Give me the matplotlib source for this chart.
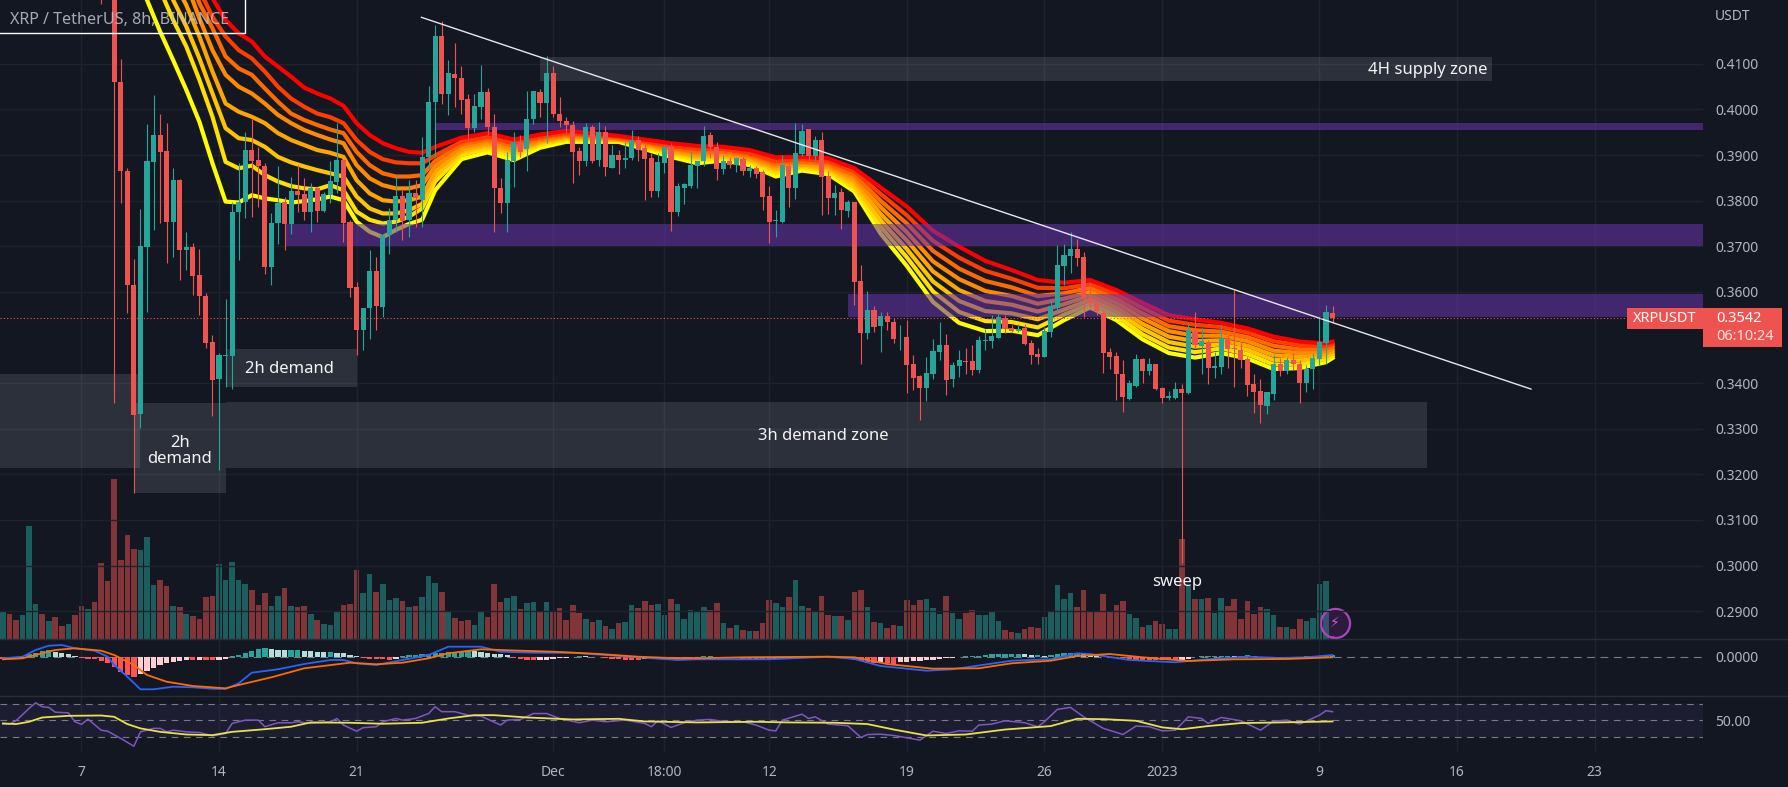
import numpy as np
import matplotlib
matplotlib.use("Agg")
import matplotlib.pyplot as plt
from matplotlib.patches import Rectangle
from matplotlib.lines import Line2D

plt.rcParams["font.family"] = ["Noto Sans", "DejaVu Sans"]

W, H = 1788, 787
BG = "#131722"
RED = "#ef5350"
GREEN = "#26a69a"
TXT = "#b2b5be"
GRID = "#1e222d"

# candles, prices in 1/10000 USDT, first candle is index 3 (7 Nov = index 0, one candle = 8h)
first_candle = 3
highs = [4400, 4340,
         4290, 4110, 3871, 3673, 3781, 3968, 4032, 3991, 3971, 3871,
         3847, 3732, 3708, 3695, 3598, 3505, 3465, 3584, 3798, 3882,
         3951, 3978, 3918, 3882, 3772, 3875, 3809, 3853, 3878, 3849,
         3838, 3831, 3820, 3888, 3971, 3889, 3758, 3622, 3564, 3692,
         3677, 3728, 3783, 3853, 3823, 3845, 3845,
         3940, 4051, 4185, 4195, 4108, 4146, 4095, 4035, 4034, 4097,
         4046, 3991, 3849, 3907, 3951, 3945, 4041, 4041, 4044, 4117,
         4095, 4028, 3984, 3975, 3918, 3970, 3966, 3973, 3964, 3922,
         3911, 3929, 3955, 3942, 3924, 3905, 3905, 3922, 3926, 3839,
         3839, 3911, 3888, 3964, 3951, 3929, 3900, 3896, 3896, 3895,
         3878, 3876, 3867, 3832, 3780, 3900, 3882, 3970, 3968, 3957,
         3941, 3950, 3864, 3835, 3827, 3802, 3798, 3659, 3601, 3569,
         3557, 3557, 3542, 3528, 3539, 3462, 3418, 3458, 3496, 3535,
         3507, 3447, 3473, 3476, 3484, 3503, 3519, 3550, 3551, 3550,
         3528, 3530, 3530, 3495, 3476, 3524, 3582, 3702, 3706, 3732,
         3717, 3688, 3620, 3586, 3560, 3476, 3469, 3450, 3407, 3463,
         3456, 3454, 3442, 3392, 3383, 3402, 3398, 3531, 3555, 3520,
         3494, 3469, 3527, 3505, 3604, 3487, 3458, 3421, 3410, 3381,
         3461, 3454, 3458, 3465, 3450, 3439, 3465, 3545, 3571, 3569]
body_tops = [4380, 4330,
             4275, 4060, 3864, 3616, 3701, 3886, 3944, 3944, 3909, 3845,
             3845, 3698, 3699, 3636, 3592, 3490, 3461, 3461, 3776, 3798,
             3911, 3911, 3889, 3876, 3752, 3796, 3798, 3821, 3821, 3814,
             3828, 3828, 3814, 3843, 3889, 3889, 3754, 3610, 3564, 3646,
             3646, 3725, 3758, 3811, 3811, 3817, 3817,
             3895, 4017, 4160, 4160, 4079, 4077, 4070, 4023, 4008, 4038,
             4038, 3961, 3827, 3889, 3928, 3928, 3980, 4040, 4038, 4079,
             4079, 3991, 3975, 3967, 3909, 3961, 3961, 3950, 3950, 3900,
             3900, 3894, 3933, 3934, 3915, 3893, 3885, 3917, 3917, 3832,
             3836, 3878, 3888, 3942, 3944, 3917, 3888, 3888, 3893, 3891,
             3871, 3871, 3862, 3810, 3758, 3878, 3877, 3904, 3953, 3957,
             3933, 3933, 3854, 3816, 3819, 3797, 3798, 3623, 3560, 3560,
             3547, 3547, 3535, 3500, 3501, 3441, 3416, 3422, 3471, 3483,
             3483, 3440, 3451, 3449, 3449, 3495, 3495, 3503, 3546, 3542,
             3520, 3518, 3520, 3489, 3464, 3514, 3569, 3659, 3681, 3693,
             3693, 3676, 3586, 3575, 3553, 3468, 3459, 3421, 3401, 3453,
             3453, 3441, 3441, 3390, 3371, 3388, 3387, 3516, 3513, 3493,
             3491, 3437, 3500, 3500, 3477, 3472, 3452, 3398, 3382, 3380,
             3443, 3443, 3450, 3450, 3443, 3432, 3454, 3491, 3555, 3553]
body_bots = [4330, 4280,
             4060, 3864, 3615, 3330, 3332, 3699, 3885, 3907, 3754, 3754,
             3692, 3692, 3635, 3592, 3487, 3407, 3408, 3459, 3460, 3776,
             3798, 3886, 3875, 3655, 3655, 3752, 3749, 3749, 3812, 3775,
             3775, 3777, 3777, 3812, 3841, 3752, 3609, 3516, 3516, 3564,
             3569, 3567, 3725, 3758, 3756, 3758, 3805,
             3801, 3895, 4017, 4034, 4034, 4070, 4021, 3959, 3959, 4006,
             3961, 3828, 3796, 3796, 3888, 3907, 3913, 3980, 4015, 4015,
             3989, 3975, 3966, 3907, 3888, 3887, 3888, 3889, 3873, 3872,
             3889, 3889, 3894, 3911, 3892, 3822, 3822, 3883, 3775, 3776,
             3828, 3832, 3875, 3888, 3917, 3869, 3869, 3878, 3878, 3866,
             3866, 3859, 3808, 3753, 3756, 3753, 3828, 3828, 3903, 3898,
             3898, 3853, 3806, 3806, 3780, 3778, 3622, 3509, 3509, 3524,
             3525, 3533, 3496, 3498, 3440, 3411, 3389, 3389, 3420, 3469,
             3407, 3408, 3438, 3446, 3429, 3429, 3493, 3492, 3500, 3518,
             3515, 3515, 3485, 3462, 3458, 3458, 3512, 3564, 3657, 3679,
             3675, 3586, 3575, 3559, 3465, 3458, 3420, 3370, 3366, 3394,
             3427, 3427, 3388, 3367, 3367, 3367, 3379, 3379, 3483, 3481,
             3434, 3434, 3436, 3475, 3474, 3450, 3396, 3380, 3352, 3350,
             3377, 3427, 3427, 3442, 3401, 3401, 3432, 3453, 3488, 3542]
lows = [4231, 4265,
        3356, 3794, 3554, 3160, 3301, 3557, 3736, 3752, 3663, 3677,
        3626, 3648, 3593, 3549, 3476, 3328, 3209, 3392, 3388, 3670,
        3761, 3765, 3787, 3639, 3615, 3706, 3692, 3728, 3776, 3758,
        3732, 3754, 3776, 3794, 3816, 3710, 3588, 3461, 3472, 3496,
        3516, 3546, 3684, 3732, 3714, 3721, 3743,
        3743, 3867, 3896, 4012, 3988, 4006, 3990, 3929, 3951, 3980,
        3944, 3732, 3772, 3732, 3831, 3896, 3866, 3968, 3983, 3926,
        3984, 3962, 3948, 3838, 3856, 3875, 3882, 3875, 3855, 3871,
        3858, 3872, 3889, 3888, 3801, 3809, 3809, 3860, 3734, 3766,
        3793, 3827, 3827, 3876, 3893, 3845, 3858, 3871, 3863, 3856,
        3852, 3849, 3780, 3707, 3721, 3752, 3787, 3804, 3897, 3889,
        3886, 3769, 3771, 3769, 3737, 3764, 3571, 3441, 3497, 3511,
        3469, 3517, 3489, 3473, 3378, 3386, 3319, 3361, 3408, 3451,
        3374, 3391, 3414, 3420, 3418, 3422, 3473, 3476, 3498, 3509,
        3512, 3511, 3484, 3442, 3443, 3457, 3502, 3559, 3615, 3641,
        3657, 3545, 3560, 3549, 3423, 3432, 3363, 3337, 3363, 3391,
        3401, 3418, 3386, 3357, 3364, 3366, 3006, 3377, 3478, 3420,
        3398, 3412, 3421, 3434, 3392, 3434, 3372, 3335, 3312, 3332,
        3363, 3416, 3420, 3429, 3357, 3381, 3388, 3439, 3443, 3535]
candle_dirs = ("rr" "rrrrgggrrg" "rgrrrrgggg" "grrrggrgrr" "grgggrrrgg" "rgggrgr"
               "gggrgrrrgg" "rrrggrggrg" "rrrrrgrgrg" "rggrrrggrg" "ggggrrgrgr"
               "grrrggrggr" "grrgrgrrgr" "grrgrrrggg" "rggrrggggr" "rgrrrggggg"
               "rrrrrrrrgg" "rgrrggrgrg" "rggrrrrrrg" "grgrrggggr")

# volume starts at index -12
first_volume = -12
volumes = [27.7, 25.3, 18.7, 24.3, 112.7, 35.3, 25.3, 17.7, 21.7, 13.3,
           15.3, 24.3, 33.3, 30.3, 37.3, 76, 58.3, 160, 79.3, 104.3,
           90.3, 89.3, 102.3, 54.3, 59.3, 53.3, 33.3, 31.7, 25.3, 23.3,
           20.3, 41.7, 42.7, 74.7, 59.3, 76.7, 59.3, 55.3, 49.3, 34.3,
           45.7, 33.3, 43.3, 51.3, 33.3, 32, 33.3, 25.3, 19.3, 15.3,
           13.7, 26.7, 34.3, 35.3, 69.3, 46.3, 65.3, 47.3, 55.3, 39.3,
           41, 37.7, 31.7, 33.3, 42, 63.3, 56.3, 47.3, 28.3, 21.3,
           18.3, 19.3, 14.3, 28.3, 22, 55.3, 37.3, 41.3, 43.3, 30.3,
           36.3, 37.3, 27.3, 37.3, 28.3, 31.3, 19.3, 34.3, 26.3, 20.3,
           17.3, 19.3, 13.3, 10.3, 16, 17.3, 34.3, 31.3, 38.3, 34.3,
           35.3, 24.3, 40.3, 35.3, 20.3, 29.3, 26.7,
           31.7, 29.3, 36.3, 16.3, 11.3, 14.3, 9.3, 8.3, 8.3, 16.3,
           39.3, 36.3, 32.3, 42.3, 59.3, 33.3, 31.3, 27.3, 43.3, 24.3,
           23.3, 23.3, 19.3, 47.3, 49.3, 32.3, 17.3, 16.3, 11, 14.3,
           13.3, 39.3, 34.3, 39.3, 40.3, 31.3, 25.3, 43.3, 26.3, 20.3,
           26.3, 29.3, 24.3, 24.3, 27.3, 18.3, 9.3, 7.3, 6.3, 10.3,
           12.3, 11.3, 22.3, 28.3, 54.3, 40.3, 46.3, 32.3, 49.3, 28.3,
           27.3, 45.3, 28.3, 34.3, 38.3, 25.3, 21.3, 12.3, 14.3, 18.3,
           15.3, 10.3, 10.3, 100.3, 54.3, 40.3, 40.3, 41.3, 26.3, 41.3,
           33.3, 40.3, 20.3, 38.3, 25.3, 32.3, 30.3, 24.3, 12.3, 12.3,
           10.3, 20.3, 18.3, 21.3, 55.3, 58.3, 3.3]
early_vol_dirs = "grrgggrgrrgrrgr"  # bars before the first candle

# moving average ribbon, in 1/10000 USDT
ribbon_i = [8, 10, 12, 14, 16, 18, 20, 22, 24, 26, 28, 30, 32, 34, 36, 38, 40, 42, 44, 46, 48, 50, 52,
            54, 58, 62, 66, 70, 74, 78, 82, 86, 90, 94, 98, 102, 106, 110, 114,
            118, 122, 126, 130, 134, 138, 142, 146, 150, 154, 158, 162, 166, 170, 174, 178, 182, 186, 190, 191]
ema_1 = [4576, 4525, 4474, 4423, 4372, 4291, 4244, 4196, 4167, 4149, 4116, 4094, 4072, 4048, 4035, 4024, 4008, 3970, 3944, 3926, 3915, 3907, 3905,
         3918, 3938, 3948, 3934, 3945, 3953, 3948, 3942, 3934, 3926, 3920, 3918, 3911, 3895, 3896, 3893,
         3871, 3829, 3787, 3734, 3699, 3668, 3648, 3626, 3620, 3626, 3604, 3576, 3549, 3540, 3532, 3520, 3502, 3491, 3487, 3491]
ema_2 = [4547, 4496, 4445, 4394, 4342, 4262, 4203, 4160, 4130, 4112, 4083, 4050, 4024, 4006, 3991, 3983, 3970, 3933, 3907, 3891, 3884, 3882, 3882,
         3899, 3929, 3940, 3926, 3940, 3948, 3944, 3940, 3930, 3920, 3913, 3913, 3904, 3886, 3891, 3886,
         3864, 3815, 3768, 3712, 3675, 3646, 3629, 3609, 3608, 3617, 3595, 3565, 3537, 3528, 3523, 3511, 3492, 3483, 3481, 3486]
ema_3 = [4518, 4467, 4415, 4364, 4313, 4233, 4178, 4116, 4090, 4076, 4046, 4017, 3991, 3977, 3966, 3956, 3948, 3907, 3878, 3860, 3853, 3853, 3856,
         3887, 3923, 3934, 3920, 3936, 3945, 3942, 3937, 3927, 3916, 3907, 3908, 3900, 3881, 3886, 3881,
         3856, 3800, 3750, 3690, 3651, 3624, 3610, 3591, 3597, 3609, 3585, 3553, 3525, 3516, 3513, 3501, 3482, 3474, 3475, 3481]
ema_4 = [4489, 4430, 4379, 4328, 4277, 4200, 4130, 4076, 4050, 4035, 4013, 3988, 3970, 3955, 3944, 3934, 3926, 3878, 3849, 3834, 3827, 3827, 3834,
         3876, 3917, 3929, 3914, 3932, 3942, 3940, 3936, 3925, 3913, 3903, 3904, 3896, 3876, 3883, 3877,
         3849, 3786, 3731, 3667, 3628, 3602, 3591, 3574, 3585, 3600, 3576, 3542, 3514, 3504, 3504, 3492, 3471, 3466, 3470, 3475]
ema_5 = [4459, 4401, 4342, 4284, 4229, 4160, 4083, 4013, 3995, 3984, 3970, 3948, 3933, 3922, 3911, 3905, 3896, 3845, 3816, 3801, 3798, 3801, 3809,
         3864, 3911, 3924, 3909, 3929, 3940, 3937, 3934, 3922, 3909, 3898, 3901, 3892, 3871, 3879, 3873,
         3842, 3771, 3713, 3645, 3604, 3580, 3572, 3557, 3573, 3592, 3566, 3530, 3502, 3492, 3494, 3482, 3461, 3458, 3464, 3470]
ema_6 = [4423, 4364, 4306, 4240, 4182, 4112, 4035, 3959, 3937, 3933, 3918, 3896, 3884, 3875, 3867, 3860, 3853, 3809, 3783, 3772, 3772, 3779, 3793,
         3854, 3906, 3919, 3904, 3926, 3937, 3935, 3933, 3920, 3906, 3894, 3897, 3888, 3866, 3875, 3869,
         3834, 3757, 3694, 3623, 3580, 3558, 3553, 3540, 3561, 3583, 3557, 3519, 3490, 3480, 3485, 3473, 3451, 3450, 3458, 3465]
ema_7 = [4379, 4313, 4262, 4196, 4138, 4065, 3984, 3885, 3871, 3877, 3856, 3842, 3832, 3827, 3825, 3834, 3823, 3776, 3758, 3750, 3754, 3765, 3783,
         3842, 3900, 3914, 3898, 3922, 3934, 3933, 3932, 3917, 3902, 3889, 3893, 3885, 3861, 3872, 3865,
         3827, 3743, 3676, 3601, 3556, 3536, 3534, 3522, 3550, 3574, 3548, 3507, 3478, 3468, 3476, 3464, 3441, 3441, 3452, 3460]
ema_8 = [4306, 4240, 4171, 4108, 4043, 3973, 3882, 3798, 3796, 3812, 3805, 3801, 3796, 3799, 3803, 3809, 3801, 3754, 3732, 3720, 3736, 3749, 3758,
         3823, 3891, 3906, 3889, 3916, 3929, 3929, 3929, 3913, 3896, 3882, 3888, 3878, 3853, 3866, 3858,
         3820, 3728, 3657, 3578, 3532, 3514, 3515, 3505, 3538, 3566, 3538, 3496, 3466, 3456, 3466, 3454, 3431, 3433, 3446, 3455]
ribbon_colors = ["#ff0000", "#ff3d00", "#ff6a00", "#ff8a00", "#ffa500", "#ffc400", "#ffe000", "#ffff00"]

# zones: start index, end index, high, low (1/10000 USDT)
purple_zones = [(54.1, 247.6, 3970, 3955), (31.1, 247.6, 3749, 3701), (117, 247.6, 3595, 3544)]
grey_zones = [(-12.5, 8.9, 3420, 3214), (8, 22, 3356, 3159), (22, 205.4, 3358, 3214),
              (22, 42, 3475, 3391), (70, 215.3, 4115, 4062)]
trend_i = [51.9, 221.3]
trend_p = [4202, 3387]
last_price = 3542

# MACD, in 1/10000
macd_i = [-12, -9, -7, -5, -3, -1, 2, 4, 5, 7, 9, 11, 14, 17, 20, 22, 24, 26, 30, 34, 38, 40, 42, 45, 49, 53, 56, 61, 64, 69, 75, 80, 85, 91, 94,
          105, 114, 118, 122, 129, 133, 142, 148, 152, 154, 160, 167, 172, 178, 183, 187, 191]
macd_v = [-1.3, 0.3, 7, 11.3, 12, 8.7, 6.3, 0.3, -8, -19.7, -32.3, -32.3, -29.7, -30.3, -31.7, -32, -26.3, -15.7, -12.3, -7, -3, -3, -6.3, -8, -3, 2, 10.3, 10.3, 5.3, 4.3, 4.3, 2, -0.3, -3, -2.3,
          -2.3, 0.3, -2, -9, -13.7, -12.3, -3.7, -2.3, 3.7, 3, -3, -5.3, -2.3, 0.3, -1, -0.3, 2]
signal_i = [-12, -9, -7, -4, -1, 3, 5, 8, 10, 13, 17, 22, 24, 29, 34, 41, 45, 49, 53, 56, 61, 67, 72, 79, 85, 91, 94,
            101, 114, 118, 123, 130, 137, 142, 148, 152, 157, 162, 169, 176, 184, 191]
signal_v = [-2.3, -1.3, 2, 7, 8.7, 6.3, 2, -8, -18, -24.7, -29, -31.3, -28, -20.3, -11.3, -5.7, -7.3, -5.7, -1.3, 3.7, 7.7, 6.3, 5.3, 3, 0.3, -1.3, -1.3,
            -0.3, 0.3, -0.3, -7, -11.7, -11.3, -6.3, -3.7, 1, 3, -0.3, -4, -2.3, -2, -0.3]
macd_hist = [-1.5, -1.5, -1.5, -1, 3, 4.5, 6.5, 7, 5, 4, 3, 1,
             -0.5, -1.5, -2, -4, -6, -10, -15, -18, -20, -17, -14, -11, -8, -6, -4.5, -4, -3, -3, -2.5, -3, -3, -2.5, -2,
             1, 2.5, 4, 6, 8, 9, 8, 7.5, 7, 7, 7, 6.5, 6, 5.5, 5, 5, 4.5, 4, 2.5, 0.7, -1, -1.5, -2, -2, -2.7, -1.5,
             1, 2, 2.5, 3, 3.5, 4, 4.5, 5, 5.5, 6, 6.5, 6, 5, 4, 3.5, 3, 2.5, -1, -2, -2.7, -3, -2.7, -2.5, -2, -1, -0.5,
             0.5, 1, 0.7, 0.5, 0, -1, -1.5, -2, -2.5, -2.5, -2.5, -2, -2, -1.5, -1.5, -1.5, -1.5, -1.5, -1.5, -1.5,
             1, 1.2, 0.5, -0.5, -0.8, -1, -1.5, -2, -2, -2.5, -2.5, -2, -1.5, -1, 0.5, 1, 1.5, 1.5, 1, 0.3, 0.2, -0.3, -1,
             -2.5, -4, -5, -5.5, -5, -6, -6.5, -5, -4.5, -4, -3.5, -3, -2.5, -1.5, -1, -0.5, 0.5, 1, 1.5, 1.5, 2.5, 2.7, 2.8, 3,
             3.5, 3.5, 3, 2, 2, 1, 2, 3, 3.7, 4, 4, 3, 2.5, 1, 0.3, -0.3, -0.5, -1, -2, -2.5, -2.5, -3, -3, -3, -3, -3, -2.5, -1.5,
             0, 1, 1.5, 1.5, 1.5, 1.5, 1, 1.5, 2, 1, -0.5, -1, -1.5, -1, -0.5, -0.3, 0.3, 1, 1, 1.5, 2, 2.3]

# RSI
rsi_i = [-12, -11, -10, -8, -7, -6, -5, -4, -2, -1, 0, 1, 3, 4, 6, 8, 9, 11, 12, 13, 14, 16, 18, 20, 22, 23, 25, 27, 28, 30, 32, 33, 35, 38, 39, 40, 42, 43, 45, 46, 48, 49, 51, 53, 54, 55, 57, 59, 61, 64, 65, 67, 69, 71, 73, 76, 78, 80, 83, 86, 87, 88, 90, 92, 94,
         96, 98, 101, 103, 105, 106, 107, 110, 111, 112, 114, 117, 119, 120, 122, 124, 128, 130, 132, 134, 136, 137, 139, 141, 144, 146, 147, 149, 151, 153, 156, 159, 161, 163, 165, 167, 169, 171, 172, 174, 177, 180, 182, 184, 186, 189, 190, 191]
rsi_v = [47.8, 47.8, 49.8, 57.3, 60.7, 58.3, 57.9, 55, 54.6, 49.2, 47.6, 50.8, 44.1, 43.5, 39.1, 34.4, 43.1, 45.2, 45.2, 43.1, 44.1, 43.1, 42.7, 40.7, 42.1, 48.2, 50.2, 50.2, 46.2, 48.6, 48.6, 49.2, 48.2, 49.2, 51.2, 47.2, 43.5, 45.6, 46.2, 49.2, 51.2, 50.2, 51.2, 54.2, 58.3, 55.3, 55.3, 53.2, 52.6, 47.2, 50.2, 50.6, 54.2, 54.2, 51.2, 48.6, 50.2, 49.2, 50.2, 48.2, 46.2, 49.8, 45.8, 48.6, 50.2,
         50.6, 49.4, 49.2, 47.2, 44.1, 43.7, 50.2, 53.8, 51.2, 52.2, 47.8, 46.8, 39.7, 41.5, 41.7, 40.9, 38.1, 43.5, 42.1, 43.7, 43.5, 47.2, 47.8, 49.8, 48.6, 46.2, 49.2, 56.7, 57.9, 52.2, 45.2, 41.5, 46.6, 46.2, 43.7, 44.1, 52.2, 51.2, 48.2, 51.8, 49.8, 44.1, 49.6, 50.2, 47.8, 53.2, 55.9, 55.3]
rsi_ma_i = [-12, -10, -8, -6, -2, 3, 5, 7, 9, 12, 16, 20, 23, 28, 32, 35, 41, 46, 52, 56, 60, 63, 68, 75, 82, 86, 94,
            103, 108, 115, 120, 124, 129, 135, 141, 148, 152, 156, 161, 165, 168, 172, 177, 183, 191]
rsi_ma_v = [48.2, 47.8, 49.2, 51.8, 52.8, 53, 52.2, 47.8, 45.2, 43.1, 41.5, 41.1, 43.1, 44.7, 46.2, 48.8, 48.6, 48, 48.6, 51.2, 53.2, 53.2, 51.8, 50.6, 51, 49.4, 48.8,
            49.2, 48.8, 48.6, 47.8, 44.5, 40.9, 41.5, 44.5, 46.6, 51, 50.8, 49.8, 45.8, 44.7, 46.6, 48.4, 48.8, 49.4]

# axis labels
x_tick_i = [0, 21, 42, 72, 89, 105, 126, 147, 165, 189, 210, 231]
x_tick_labels = ["7", "14", "21", "Dec", "18:00", "12", "19", "26", "2023", "9", "16", "23"]
price_ticks = [4100, 4000, 3900, 3800, 3700, 3600, 3400, 3300, 3200, 3100, 3000, 2900]


def pane(top, bottom, left=0, right=1703):
    return fig.add_axes([left / W, 1 - bottom / H, (right - left) / W, (bottom - top) / H])


def fig_text(x, y, s, **kw):
    return fig.text(x / W, 1 - y / H, s, va="center", **kw)


def fig_rect(x0, y0, x1, y1, **kw):
    fig.add_artist(Rectangle((x0 / W, 1 - y1 / H), (x1 - x0) / W, (y1 - y0) / H,
                             transform=fig.transFigure, **kw))


def p(vals):
    return np.array(vals) / 10000


fig = plt.figure(figsize=(W / 100, H / 100), dpi=100, facecolor=BG)
XLIM = (-12.44, 247.56)

# volume sits under the price pane
vol_ax = pane(0, 639)
vol_ax.set_facecolor(BG)
vol_ax.set_xlim(XLIM)
vol_ax.set_ylim(0, 639)
vol_ax.set_xticks([])
vol_ax.set_yticks([])
vol_dirs = early_vol_dirs + candle_dirs
vol_x = np.arange(len(volumes)) + first_volume
vol_colors = [RED if d == "r" else GREEN for d in vol_dirs]
vol_ax.bar(vol_x, volumes, width=0.86, color=vol_colors, alpha=0.5, linewidth=0)
vol_ax.scatter([191.4], [16], s=440, facecolor="#9c27b033", edgecolor="#ab47bc", linewidth=1.6, zorder=5)
vol_ax.text(191.4, 16, "\u26a1", color="#ba68c8", ha="center", va="center", fontsize=10,
            family="DejaVu Sans", zorder=6)

ax = pane(0, 639)
ax.patch.set_alpha(0)
ax.set_xlim(XLIM)
ax.set_ylim(0.2839, 0.4240)
ax.set_xticks(x_tick_i)
ax.set_yticks(p(price_ticks))
ax.set_xticklabels([])
ax.set_yticklabels(["%.4f" % t for t in p(price_ticks)])
ax.yaxis.tick_right()
ax.tick_params(axis="both", length=0)
ax.tick_params(axis="y", colors=TXT, labelsize=10, pad=9)
ax.grid(True, color=GRID, lw=1)
ax.set_axisbelow(True)

# ribbon, yellow first so the red stays on top where the lines bunch up
emas = [ema_1, ema_2, ema_3, ema_4, ema_5, ema_6, ema_7, ema_8]
for n in range(7, -1, -1):
    ax.plot(ribbon_i, p(emas[n]), color=ribbon_colors[n], lw=3.0, zorder=2, solid_joinstyle="round")

# zones
for x0, x1, hi, lo in purple_zones:
    ax.add_patch(Rectangle((x0, lo / 10000), x1 - x0, (hi - lo) / 10000, facecolor="#6a35b0",
                           alpha=0.55, linewidth=0, zorder=3))
for x0, x1, hi, lo in grey_zones:
    ax.add_patch(Rectangle((x0, lo / 10000), x1 - x0, (hi - lo) / 10000, facecolor="#ffffff",
                           alpha=0.11, linewidth=0, zorder=3))

# candles
candle_x = np.arange(len(highs)) + first_candle
colors = [RED if d == "r" else GREEN for d in candle_dirs]
ax.vlines(candle_x, p(lows), p(highs), colors=colors, lw=0.8, zorder=4)
ax.bar(candle_x, p(body_tops) - p(body_bots), bottom=p(body_bots), width=0.78, color=colors,
       linewidth=0, zorder=4)

ax.plot(trend_i, p(trend_p), color="#e8e8ec", lw=1.0, zorder=5)
ax.axhline(last_price / 10000, color=RED, lw=0.8, ls=(0, (1, 2)), zorder=5)

label_kw = dict(color="#f4f4f6", fontsize=12, fontweight="medium", ha="center", va="center", zorder=6)
ax.text(31.7, 0.3430, "2h demand", **label_kw)
ax.text(15, 0.3251, "2h\ndemand", linespacing=1.0, **label_kw)
ax.text(113.2, 0.3284, "3h demand zone", **label_kw)
ax.text(205.6, 0.4086, "4H supply zone", **label_kw)
ax.text(167.3, 0.2965, "sweep", **label_kw)

# MACD
macd_ax = pane(639, 696)
macd_ax.patch.set_alpha(0)
macd_ax.set_xlim(XLIM)
macd_ax.set_ylim(-39, 18)
macd_x = np.arange(len(macd_hist)) + first_volume
hist_colors = []
for n, v in enumerate(macd_hist):
    prev = macd_hist[n - 1] if n else v
    if v >= 0:
        hist_colors.append("#26a69a" if v >= prev else "#b2dfdb")
    else:
        hist_colors.append("#ff5252" if v <= prev else "#ffcdd2")
macd_ax.bar(macd_x, macd_hist, width=0.8, color=hist_colors, linewidth=0, zorder=2)
macd_ax.axhline(0, color="#787b86", lw=0.8, ls=(0, (7, 5)), zorder=1)
macd_ax.plot(macd_i, macd_v, color="#2962ff", lw=1.3, zorder=3)
macd_ax.plot(signal_i, signal_v, color="#ff6d00", lw=1.3, zorder=4)
macd_ax.set_xticks(x_tick_i)
macd_ax.set_xticklabels([])
macd_ax.set_yticks([0])
macd_ax.set_yticklabels(["0.0000"])
macd_ax.yaxis.tick_right()
macd_ax.tick_params(axis="both", length=0)
macd_ax.tick_params(axis="y", colors=TXT, labelsize=10, pad=9)
macd_ax.grid(True, axis="x", color=GRID, lw=1)
macd_ax.set_axisbelow(True)

# RSI
rsi_ax = pane(696, 752)
rsi_ax.patch.set_alpha(0)
rsi_ax.set_xlim(XLIM)
rsi_ax.set_ylim(30.9, 64.8)
rsi_ax.axhspan(40, 60, color="#7e57c2", alpha=0.1, linewidth=0)
for lvl in [40, 50, 60]:
    rsi_ax.axhline(lvl, color="#787b86", lw=0.8, ls=(0, (6, 5)), zorder=1)
rsi_ax.plot(rsi_i, rsi_v, color="#7e57c2", lw=1.1, zorder=3)
rsi_ax.plot(rsi_ma_i, rsi_ma_v, color="#e8e24a", lw=1.3, zorder=4)
rsi_ax.set_xticks(x_tick_i)
rsi_ax.set_xticklabels(x_tick_labels)
rsi_ax.set_yticks([50])
rsi_ax.set_yticklabels(["50.00"])
rsi_ax.yaxis.tick_right()
rsi_ax.tick_params(axis="both", length=0)
rsi_ax.tick_params(axis="y", colors=TXT, labelsize=10, pad=9)
rsi_ax.tick_params(axis="x", colors=TXT, labelsize=10, pad=9)
rsi_ax.get_xticklabels()[8].set_fontweight("bold")
rsi_ax.grid(True, axis="x", color=GRID, lw=1)
rsi_ax.set_axisbelow(True)

for a in [vol_ax, ax, macd_ax, rsi_ax]:
    for s in a.spines.values():
        s.set_visible(False)

# pane separators
for y in [639, 696]:
    fig.add_artist(Line2D([0, 1], [1 - y / H, 1 - y / H], color="#2a2e39", lw=1))

fig_text(1715, 16, "USDT", color=TXT, fontsize=10)

# last price tags
fig_rect(1626.5, 308, 1703, 329, facecolor=RED, linewidth=0)
fig_rect(1703, 308, 1782, 347, facecolor=RED, linewidth=0)
fig_text(1665, 318.5, "XRPUSDT", color="white", fontsize=10.5, ha="center")
fig_text(1716, 318.5, "0.3542", color="white", fontsize=10.5)
fig_text(1716, 336.5, "06:10:24", color="#ffe3e3", fontsize=10.5)

# title box
fig_rect(-2, -2, 245, 33, facecolor="none", edgecolor="white", linewidth=1)
fig_text(10, 20, "XRP / TetherUS, 8h, BINANCE", color="#c2c4ca", fontsize=11.6, fontweight="medium", alpha=0.85)

fig.savefig("out.png", dpi=100, facecolor=BG)
